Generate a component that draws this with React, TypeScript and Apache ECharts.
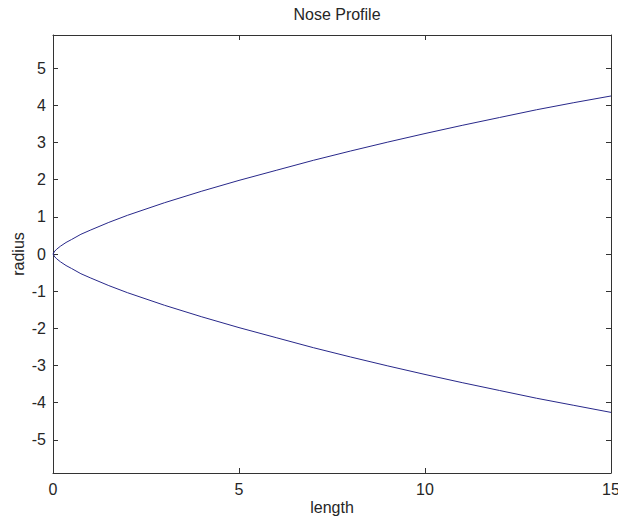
import React, { useEffect, useRef } from "react";
import * as echarts from "echarts";

// Nose contour: axial length vs. radius (upper and lower halves)
const lengthValues = [0, 0.05, 0.1, 0.2, 0.35, 0.5, 0.75, 1, 1.5, 2, 2.5, 3, 4, 5, 6, 7, 8, 9, 10, 11, 12, 13, 14, 15];
const upperRadius = [0, 0.08, 0.13, 0.21, 0.31, 0.39, 0.53, 0.64, 0.85, 1.04, 1.21, 1.38, 1.69, 1.98, 2.25, 2.52, 2.77, 3.01, 3.24, 3.46, 3.67, 3.88, 4.07, 4.25];
const lowerRadius = [0, -0.08, -0.13, -0.21, -0.31, -0.39, -0.53, -0.64, -0.85, -1.04, -1.21, -1.38, -1.69, -1.98, -2.25, -2.52, -2.77, -3.01, -3.24, -3.46, -3.67, -3.88, -4.07, -4.26];

const xTicks = [0, 5, 10, 15];
const yTicks = [-5, -4, -3, -2, -1, 0, 1, 2, 3, 4, 5];

const FONT = "'Liberation Sans', Arial, Helvetica, sans-serif";
const AXIS_COLOR = "#333333";
const TEXT_COLOR = "#262626";
const LINE_COLOR = "#28288a";

export default function App() {
  const ref = useRef<HTMLDivElement>(null);

  useEffect(() => {
    if (!ref.current) return;
    const chart = echarts.init(ref.current, undefined, { renderer: "svg" });

    const axisLine = { show: true, onZero: false, lineStyle: { color: AXIS_COLOR, width: 1 } };
    const tick = { show: true, inside: true, length: 5, lineStyle: { color: AXIS_COLOR, width: 1 } };
    const label = { color: TEXT_COLOR, fontFamily: FONT, fontSize: 16 };

    const toPairs = (ys: number[]) => lengthValues.map((x, i) => [x, ys[i]]);

    chart.setOption({
      animation: false,
      backgroundColor: "#ffffff",
      title: {
        text: "Nose Profile",
        left: 332,
        top: 1,
        textAlign: "center",
        textStyle: { color: TEXT_COLOR, fontFamily: FONT, fontSize: 16, fontWeight: "normal" },
      },
      grid: {
        left: 53,
        top: 35,
        width: 558,
        height: 438,
        containLabel: false,
        outerBoundsMode: "none",
      },
      xAxis: [
        {
          type: "value",
          position: "bottom",
          min: 0,
          max: 15,
          interval: 5,
          axisLine,
          axisTick: { ...tick, customValues: xTicks },
          axisLabel: { ...label, margin: 8, customValues: xTicks, hideOverlap: false },
          splitLine: { show: false },
        },
        {
          type: "value",
          position: "top",
          min: 0,
          max: 15,
          interval: 5,
          axisLine,
          axisTick: { ...tick, customValues: xTicks },
          axisLabel: { show: false },
          splitLine: { show: false },
        },
      ],
      yAxis: [
        {
          type: "value",
          position: "left",
          min: -5.89,
          max: 5.89,
          axisLine,
          axisTick: { ...tick, customValues: yTicks },
          axisLabel: { ...label, margin: 7, customValues: yTicks },
          splitLine: { show: false },
        },
        {
          type: "value",
          position: "right",
          min: -5.89,
          max: 5.89,
          axisLine,
          axisTick: { ...tick, customValues: yTicks },
          axisLabel: { show: false },
          splitLine: { show: false },
        },
      ],
      graphic: [
        {
          type: "text",
          x: 332,
          y: 507,
          style: {
            text: "length",
            fill: TEXT_COLOR,
            font: `16px ${FONT}`,
            align: "center",
            verticalAlign: "middle",
          },
        },
        {
          type: "text",
          x: 18,
          y: 254,
          rotation: Math.PI / 2,
          style: {
            text: "radius",
            fill: TEXT_COLOR,
            font: `16px ${FONT}`,
            align: "center",
            verticalAlign: "middle",
          },
        },
      ],
      series: [
        {
          name: "upper",
          type: "line",
          data: toPairs(upperRadius),
          showSymbol: false,
          lineStyle: { color: LINE_COLOR, width: 1 },
          itemStyle: { color: LINE_COLOR },
        },
        {
          name: "lower",
          type: "line",
          data: toPairs(lowerRadius),
          showSymbol: false,
          lineStyle: { color: LINE_COLOR, width: 1 },
          itemStyle: { color: LINE_COLOR },
        },
      ],
    });

    return () => chart.dispose();
  }, []);

  return (
    <div
      ref={ref}
      style={{ position: "fixed", left: 0, top: 0, width: 618, height: 520, background: "#ffffff" }}
    />
  );
}
